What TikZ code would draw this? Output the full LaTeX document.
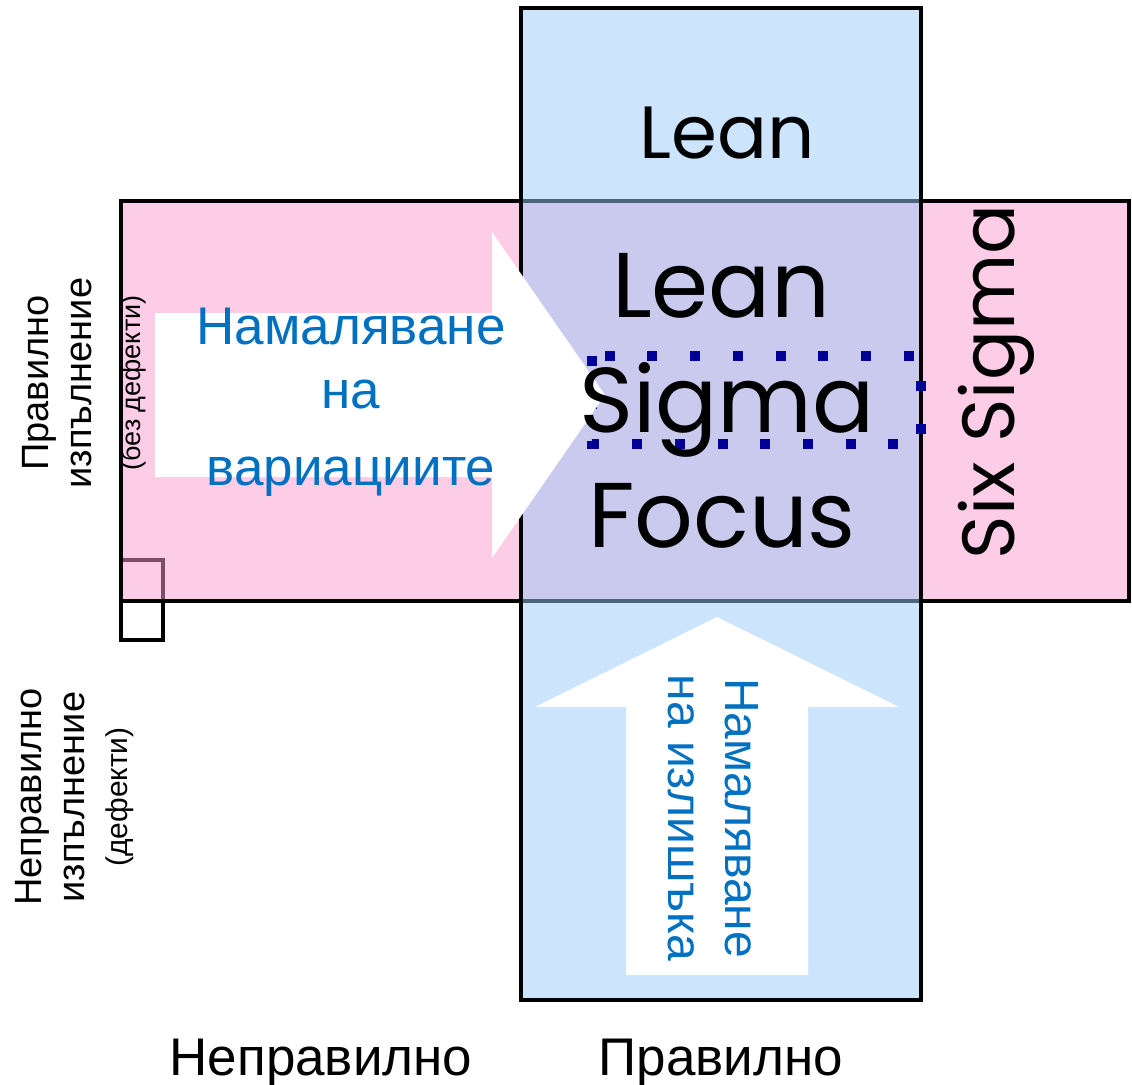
\documentclass[tikz,border=0pt]{standalone}
\usepackage{fontspec}
\setmainfont{Liberation Sans}
\newfontfamily\geofont{Poppins}
\definecolor{pinkbase}{RGB}{251,153,205}
\definecolor{bluebase}{RGB}{153,201,249}
\definecolor{txtblue}{RGB}{0,112,192}
\definecolor{dotblue}{RGB}{0,0,153}

\begin{document}
\begin{tikzpicture}[x=1pt, y=-1pt,
	box/.style={draw=black, line width=4pt},
	bigword/.style={font=\geofont\fontsize{92}{110}\selectfont, inner sep=0pt},
	midword/.style={font=\geofont\fontsize{74}{88}\selectfont, inner sep=0pt},
	bluetxt/.style={text=txtblue, font=\fontsize{53}{60}\selectfont, inner sep=0pt},
	sidetxt/.style={font=\fontsize{38}{43}\selectfont, inner sep=0pt, align=center, rotate=90}]
\useasboundingbox (0,0) rectangle (1132,1084);

% Small square
\draw[line width=4pt] (121,560) rectangle (163,640);

% Six Sigma band
\draw[box, fill=pinkbase, fill opacity=0.5] (121,201) rectangle (1129,601);

% Lean band
\draw[box, fill=bluebase, fill opacity=0.5] (521,8) rectangle (921,1000);

% Dotted frame
\draw[dotblue, line width=10pt, dash pattern=on 10pt off 32.7pt] (592,356) rectangle (921,444);

% Arrows
\fill[white] (155,313) -- (492,313) -- (492,232) -- (605,395) -- (492,558) -- (492,477) -- (155,477) -- cycle;
\fill[white] (626,975) -- (626,707) -- (535,707) -- (717,617) -- (899,707) -- (808,707) -- (808,975) -- cycle;

% Words
\node[midword, anchor=base] (lean) at (727,158) {Lean};
\node[bigword, anchor=base] (lean2) at (721,317) {Lean};
\node[bigword, anchor=base] (sigma) at (727,432) {Sigma};
\node[bigword, anchor=base] (focus) at (722,547) {Focus};
\node[midword, anchor=base, rotate=90] (six) at (1014,382) {Six Sigma};

% Arrow labels
\node[bluetxt, anchor=base] (var1) at (351,344) {Намаляване};
\node[bluetxt, anchor=base] (var2) at (351,408) {на};
\node[bluetxt, anchor=base] (var3) at (351,485) {вариациите};
\node[bluetxt, align=center, rotate=-90, font=\fontsize{48}{57}\selectfont] (waste) at (713,818) {Намаляване\\на излишъка};

% Side labels
\node[sidetxt] (good) at (57,383) {Правилно\\изпълнение};
\node[sidetxt, font=\fontsize{27}{32}\selectfont] (goodnote) at (133,383) {(без дефекти)};
\node[sidetxt] (bad) at (75,797) {Неправилно\\изпълнение\\{\fontsize{30}{36}\selectfont(дефекти)}};

% Bottom labels
\node[bluetxt, text=black, anchor=base] (badx) at (321,1075) {Неправилно};
\node[bluetxt, text=black, anchor=base] (goodx) at (721,1075) {Правилно};
\end{tikzpicture}
\end{document}
